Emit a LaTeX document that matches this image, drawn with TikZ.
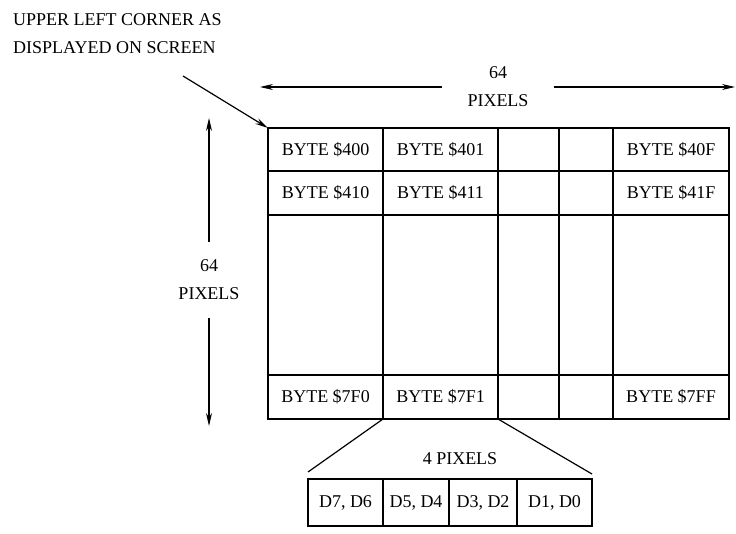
\documentclass[tikz,border=0pt]{standalone}
\usepackage{fontspec}
\setmainfont{Liberation Serif}
\usetikzlibrary{arrows.meta}
\usetikzlibrary{positioning}
\tikzstyle{arrow} = [line width=1.2pt,-{Stealth[length=13pt,width=6pt]}]
\tikzstyle{plainline} = [line width=1.2pt]
\tikzstyle{cell} = [rectangle, draw=black, line width=1.3pt, inner sep=0pt, outer sep=0pt, minimum height=44pt, text centered]
\tikzstyle{bitcell} = [rectangle, draw=black, line width=1.3pt, inner sep=0pt, outer sep=0pt, minimum height=47pt, text centered]

\begin{document}
\begin{tikzpicture}[x=1pt, y=-1pt, node distance=0pt, font=\fontsize{18}{28}\selectfont]
      \useasboundingbox (0,0) rectangle (736,533);

      % screen rows
      \node (b400) [cell, minimum width=115pt, minimum height=43pt, anchor=north west] at (268,128) {BYTE \$400};
      \node (b401) [cell, minimum width=115pt, minimum height=43pt, right=of b400] {BYTE \$401};
      \node (r1c3) [cell, minimum width=61pt, minimum height=43pt, right=of b401] {};
      \node (r1c4) [cell, minimum width=54pt, minimum height=43pt, right=of r1c3] {};
      \node (b40F) [cell, minimum width=116pt, minimum height=43pt, right=of r1c4] {BYTE \$40F};

      \node (b410) [cell, minimum width=115pt, below=of b400] {BYTE \$410};
      \node (b411) [cell, minimum width=115pt, below=of b401] {BYTE \$411};
      \node (r2c3) [cell, minimum width=61pt, below=of r1c3] {};
      \node (r2c4) [cell, minimum width=54pt, below=of r1c4] {};
      \node (b41F) [cell, minimum width=116pt, below=of b40F] {BYTE \$41F};

      \node (r3c1) [cell, minimum width=115pt, minimum height=160pt, below=of b410] {};
      \node (r3c2) [cell, minimum width=115pt, minimum height=160pt, below=of b411] {};
      \node (r3c3) [cell, minimum width=61pt, minimum height=160pt, below=of r2c3] {};
      \node (r3c4) [cell, minimum width=54pt, minimum height=160pt, below=of r2c4] {};
      \node (r3c5) [cell, minimum width=116pt, minimum height=160pt, below=of b41F] {};

      \node (b7F0) [cell, minimum width=115pt, below=of r3c1] {BYTE \$7F0};
      \node (b7F1) [cell, minimum width=115pt, below=of r3c2] {BYTE \$7F1};
      \node (r4c3) [cell, minimum width=61pt, below=of r3c3] {};
      \node (r4c4) [cell, minimum width=54pt, below=of r3c4] {};
      \node (b7FF) [cell, minimum width=116pt, below=of r3c5] {BYTE \$7FF};

      % one byte
      \node (d76) [bitcell, minimum width=75pt, anchor=north west] at (308,479) {D7, D6};
      \node (d54) [bitcell, minimum width=66pt, right=of d76] {D5, D4};
      \node (d32) [bitcell, minimum width=68pt, right=of d54] {D3, D2};
      \node (d10) [bitcell, minimum width=75pt, right=of d32] {D1, D0};
      \node (bytewidth) at (460,459) {4 PIXELS};
      \draw [plainline] (b7F1.south west) -- ([yshift=7pt]d76.north west);
      \draw [plainline] (b7F1.south east) -- ([yshift=5pt]d10.north east);

      % sizes
      \node (toplabel) [align=center, inner xsep=25pt, inner ysep=0pt] at (498,87) {64\\PIXELS};
      \coordinate (topleft) at (260,87);
      \coordinate (topright) at (735,87);
      \draw [arrow] (toplabel) -- (topleft);
      \draw [arrow] (toplabel) -- (topright);

      \node (sidelabel) [align=center, inner xsep=0pt, inner ysep=18pt] at (209,280) {64\\PIXELS};
      \coordinate (sidetop) at (209,118);
      \coordinate (sidebottom) at (209,426);
      \draw [arrow] (sidelabel) -- (sidetop);
      \draw [arrow] (sidelabel) -- (sidebottom);

      \node (cornertext) [anchor=base west, align=left, inner sep=0pt] at (13,53) {UPPER LEFT CORNER AS\\DISPLAYED ON SCREEN};
      \coordinate (cornerstart) at (183,76);
      \draw [arrow] (cornerstart) -- (b400.north west);
    \end{tikzpicture}
\end{document}
